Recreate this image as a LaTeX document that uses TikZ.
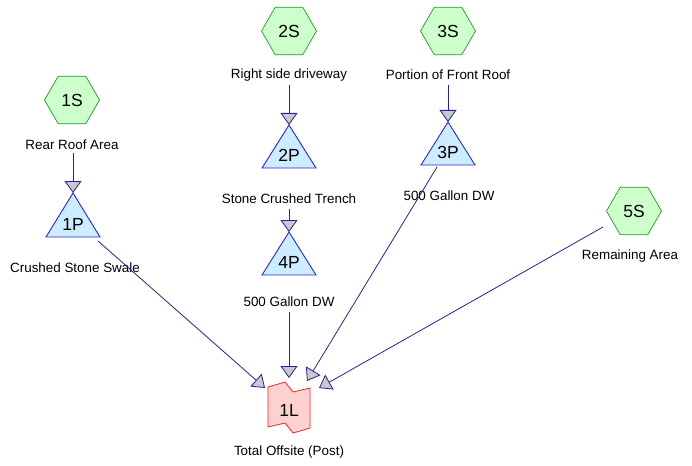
\documentclass[tikz,border=0pt]{standalone}
\usepackage{fontspec}
\setmainfont{Liberation Sans}
\usetikzlibrary{shapes.geometric,arrows.meta}
\definecolor{hexfill}{RGB}{204,255,204}
\definecolor{hexline}{RGB}{40,150,40}
\definecolor{trifill}{RGB}{204,236,255}
\definecolor{triline}{RGB}{40,40,220}
\definecolor{linkfill}{RGB}{255,208,208}
\definecolor{linkline}{RGB}{240,40,40}
\definecolor{edgecol}{RGB}{35,35,150}
\definecolor{headfill}{RGB}{200,200,205}
\tikzset{
  hexnode/.style={regular polygon, regular polygon sides=6, minimum size=55pt, inner sep=0pt,
    fill=hexfill, draw=hexline, line width=0.7pt, font=\fontsize{17.5}{20}\selectfont},
  tribox/.style={fill=trifill, draw=triline, line width=0.9pt, line join=miter},
  linkbox/.style={fill=linkfill, draw=linkline, line width=0.8pt},
  idtext/.style={font=\fontsize{17.5}{20}\selectfont, inner sep=0pt},
  caption/.style={font=\fontsize{13.4}{15}\selectfont, inner sep=0pt},
  flow/.style={draw=edgecol, line width=0.8pt, -{Triangle[length=12pt,width=17pt,fill=headfill]}},
}
\begin{document}
\begin{tikzpicture}[x=1pt,y=-1pt]
\useasboundingbox (0,0) rectangle (692,465);
% hexagons (subcatchments)
\node[hexnode] (s1) at (72,100) {1S};
\node[hexnode] (s2) at (289,31) {2S};
\node[hexnode] (s3) at (448,31) {3S};
\node[hexnode] (s5) at (634,211) {5S};
% captions
\node[caption] (c1) at (72,145) {Rear Roof Area};
\node[caption] (c2) at (289,75) {Right side driveway};
\node[caption] (c3) at (448,75) {Portion of Front Roof};
\node[caption] (c5) at (630,256) {Remaining Area};
% triangles (ponds)
\draw[tribox] (73,193) -- (100,237) -- (46,237) -- cycle;
\node[idtext] (p1) at (73,224) {1P};
\coordinate (p1top) at (73,193);
\coordinate (p1in) at (73,153);
\coordinate (p1out) at (98,241);
\node[caption] (cp1) at (75,268) {Crushed Stone Swale};
\draw[tribox] (289,125) -- (316,168) -- (262,168) -- cycle;
\node[idtext] (p2) at (289,155) {2P};
\coordinate (p2top) at (289,125);
\node[caption] (cp2) at (289,199) {Stone Crushed Trench};
\draw[tribox] (289,232) -- (316,275) -- (262,275) -- cycle;
\node[idtext] (p4) at (289,262) {4P};
\coordinate (p4top) at (289,232);
\node[caption] (cp4) at (289,302) {500 Gallon DW};
\draw[tribox] (448,122) -- (475,165) -- (421,165) -- cycle;
\node[idtext] (p3) at (448,152) {3P};
\coordinate (p3top) at (448,122);
\coordinate (p3out) at (437,167);
\node[caption] (cp3) at (449,196) {500 Gallon DW};
% link
\draw[linkbox] (268,387) -- (285,382) -- (293,392) -- (310,388) -- (310,428) -- (293,433) -- (285,423) -- (268,427) -- cycle;
\node[idtext] (l1) at (289,410) {1L};
\node[caption] (cl1) at (289,452) {Total Offsite (Post)};
\coordinate (l1a) at (265,388);
\coordinate (l1b) at (289,378);
\coordinate (l1c) at (307,381);
\coordinate (l1d) at (319,388);
\coordinate (s5out) at (603,227);
% connectors
\draw[flow] (p1in) -- (p1top);
\draw[flow] (c2.south |- 0,85) -- (p2top);
\draw[flow] (c3.south |- 0,85) -- (p3top);
\draw[flow] (cp2.south |- 0,209) -- (p4top);
\draw[flow] (cp4.south |- 0,312) -- (l1b);
\draw[flow] (p1out) -- (l1a);
\draw[flow] (p3out) -- (l1c);
\draw[flow] (s5out) -- (l1d);
\end{tikzpicture}
\end{document}
